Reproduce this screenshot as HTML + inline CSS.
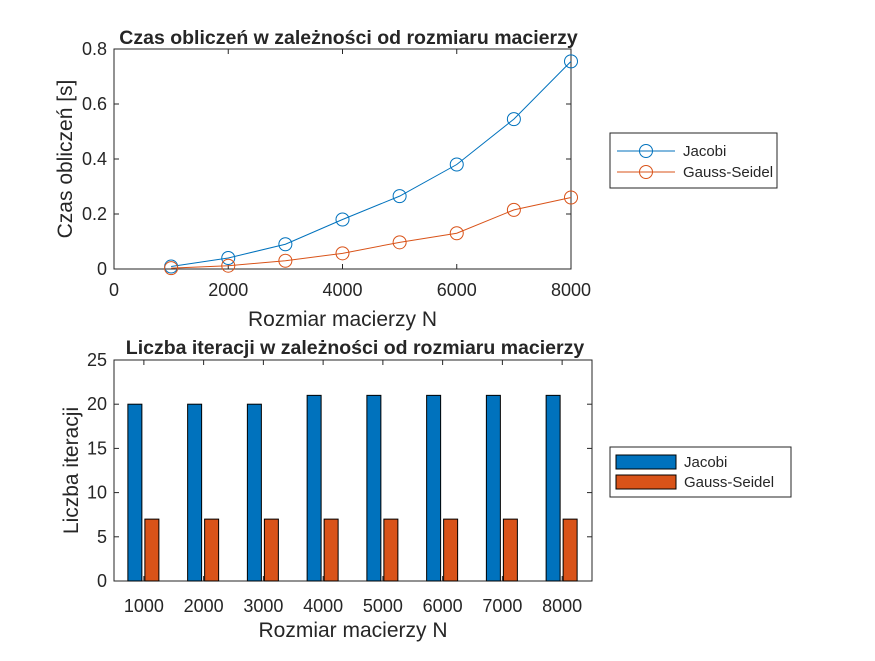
<!DOCTYPE html>
<html><head><meta charset="utf-8"><style>
body{margin:0;background:#fff;}
svg text{font-family:"Liberation Sans",sans-serif;fill:#262626;}
</style></head><body>
<svg width="875" height="656" viewBox="0 0 875 656" xmlns="http://www.w3.org/2000/svg">
<rect width="875" height="656" fill="#fff"/>
<g id="top"></g>
<g id="bot"></g>
</svg>
<script>
const sizes=[1000,2000,3000,4000,5000,6000,7000,8000];
const jacobiTime=[0.009,0.04,0.09,0.18,0.265,0.38,0.545,0.755];
const gaussTime=[0.003,0.012,0.03,0.057,0.097,0.13,0.215,0.26];
const xTicksTop=[0,2000,4000,6000,8000];
const yTicksTop=[0,0.2,0.4,0.6,0.8];
const categories=["1000","2000","3000","4000","5000","6000","7000","8000"];
const jacobiIter=[20,20,20,21,21,21,21,21];
const gaussIter=[7,7,7,7,7,7,7,7];
const yTicksBot=[0,5,10,15,20,25];
const NS="http://www.w3.org/2000/svg";
function mk(p,t,a,txt){const e=document.createElementNS(NS,t);for(const k in a)e.setAttribute(k,a[k]);if(txt!==undefined)e.textContent=txt;p.appendChild(e);return e;}
const blue="#0072BD",orange="#D95319";
const TF=18, AF=21, HF=19.5;
// top chart
const T=document.getElementById('top');
const L=114,R=571,TP=49,B=269;
const xs=v=>L+(v/8000)*(R-L), ys=v=>B-(v/0.8)*(B-TP);
let e=mk(T,'rect',{x:L,y:TP,width:R-L,height:B-TP,fill:'#fff',stroke:'#262626','stroke-width':1});

xTicksTop.forEach(v=>{mk(T,'line',{x1:xs(v),x2:xs(v),y1:B,y2:B-5,stroke:'#262626'});mk(T,'line',{x1:xs(v),x2:xs(v),y1:TP,y2:TP+5,stroke:'#262626'});
 const t=mk(T,'text',{x:xs(v),y:B+27,'text-anchor':'middle','font-size':TF},String(v));});
yTicksTop.forEach(v=>{mk(T,'line',{x1:L,x2:L+5,y1:ys(v),y2:ys(v),stroke:'#262626'});mk(T,'line',{x1:R,x2:R-5,y1:ys(v),y2:ys(v),stroke:'#262626'});
 const t=mk(T,'text',{x:L-7,y:ys(v)+6,'text-anchor':'end','font-size':TF},String(v));});
[[jacobiTime,blue,'jacobi'],[gaussTime,orange,'gauss-seidel']].forEach(([d,c,n])=>{
 const l=mk(T,'polyline',{points:d.map((v,i)=>xs(sizes[i])+','+ys(v)).join(' '),fill:'none',stroke:c,'stroke-width':1});
 
 d.forEach((v,i)=>{const m=mk(T,'circle',{cx:xs(sizes[i]),cy:ys(v),r:6.5,fill:'none',stroke:c,'stroke-width':1});
  });
});
e=mk(T,'text',{x:(L+R)/2+6,y:44,'text-anchor':'middle','font-size':HF,'font-weight':'bold',fill:'#000'},'Czas obliczeń w zależności od rozmiaru macierzy');
e=mk(T,'text',{x:(L+R)/2,y:326,'text-anchor':'middle','font-size':AF},'Rozmiar macierzy N');
e=mk(T,'text',{x:0,y:0,'text-anchor':'middle','font-size':AF,transform:`translate(72,${(TP+B)/2}) rotate(-90)`},'Czas obliczeń [s]');
// legend top
e=mk(T,'rect',{x:610,y:133,width:167,height:55,fill:'#fff',stroke:'#262626'});
[[blue,'Jacobi',151],[orange,'Gauss-Seidel',172]].forEach(([c,n,y])=>{mk(T,'line',{x1:617,x2:675,y1:y,y2:y,stroke:c});mk(T,'circle',{cx:646,cy:y,r:6.5,fill:'none',stroke:c});
 const t=mk(T,'text',{x:683,y:y+5,'font-size':15,fill:'#000'},n);});
// bottom chart
const G=document.getElementById('bot');
const L2=114,R2=592,T2=360,B2=581;
const bw=(R2-L2)/categories.length;
const xc=i=>L2+bw*(i+0.5), yb=v=>B2-(v/25)*(B2-T2);
e=mk(G,'rect',{x:L2,y:T2,width:R2-L2,height:B2-T2,fill:'#fff',stroke:'#262626'});
yTicksBot.forEach(v=>{mk(G,'line',{x1:L2,x2:L2+5,y1:yb(v),y2:yb(v),stroke:'#262626'});mk(G,'line',{x1:R2,x2:R2-5,y1:yb(v),y2:yb(v),stroke:'#262626'});
 const t=mk(G,'text',{x:L2-7,y:yb(v)+6,'text-anchor':'end','font-size':TF},String(v));});
categories.forEach((c,i)=>{mk(G,'line',{x1:xc(i),x2:xc(i),y1:B2,y2:B2-5,stroke:'#262626'});mk(G,'line',{x1:xc(i),x2:xc(i),y1:T2,y2:T2+5,stroke:'#262626'});
 const t=mk(G,'text',{x:xc(i),y:B2+31,'text-anchor':'middle','font-size':TF},c);
 const b1=mk(G,'rect',{x:xc(i)-16,y:yb(jacobiIter[i]),width:14,height:B2-yb(jacobiIter[i]),fill:blue,stroke:'#000','stroke-width':1});
 
 const b2=mk(G,'rect',{x:xc(i)+1,y:yb(gaussIter[i]),width:14,height:B2-yb(gaussIter[i]),fill:orange,stroke:'#000','stroke-width':1});
 });
e=mk(G,'text',{x:(L2+R2)/2+2,y:354,'text-anchor':'middle','font-size':HF,'font-weight':'bold',fill:'#000'},'Liczba iteracji w zależności od rozmiaru macierzy');
e=mk(G,'text',{x:(L2+R2)/2,y:637,'text-anchor':'middle','font-size':AF},'Rozmiar macierzy N');
e=mk(G,'text',{x:0,y:0,'text-anchor':'middle','font-size':AF,transform:`translate(78,${(T2+B2)/2}) rotate(-90)`},'Liczba iteracji');
e=mk(G,'rect',{x:610,y:447,width:181,height:50,fill:'#fff',stroke:'#262626'});
[[blue,'Jacobi',462],[orange,'Gauss-Seidel',482]].forEach(([c,n,y])=>{mk(G,'rect',{x:616,y:y-7,width:60,height:14,fill:c,stroke:'#000'});
 const t=mk(G,'text',{x:684,y:y+5,'font-size':15,fill:'#000'},n);});
</script>
</body></html>
